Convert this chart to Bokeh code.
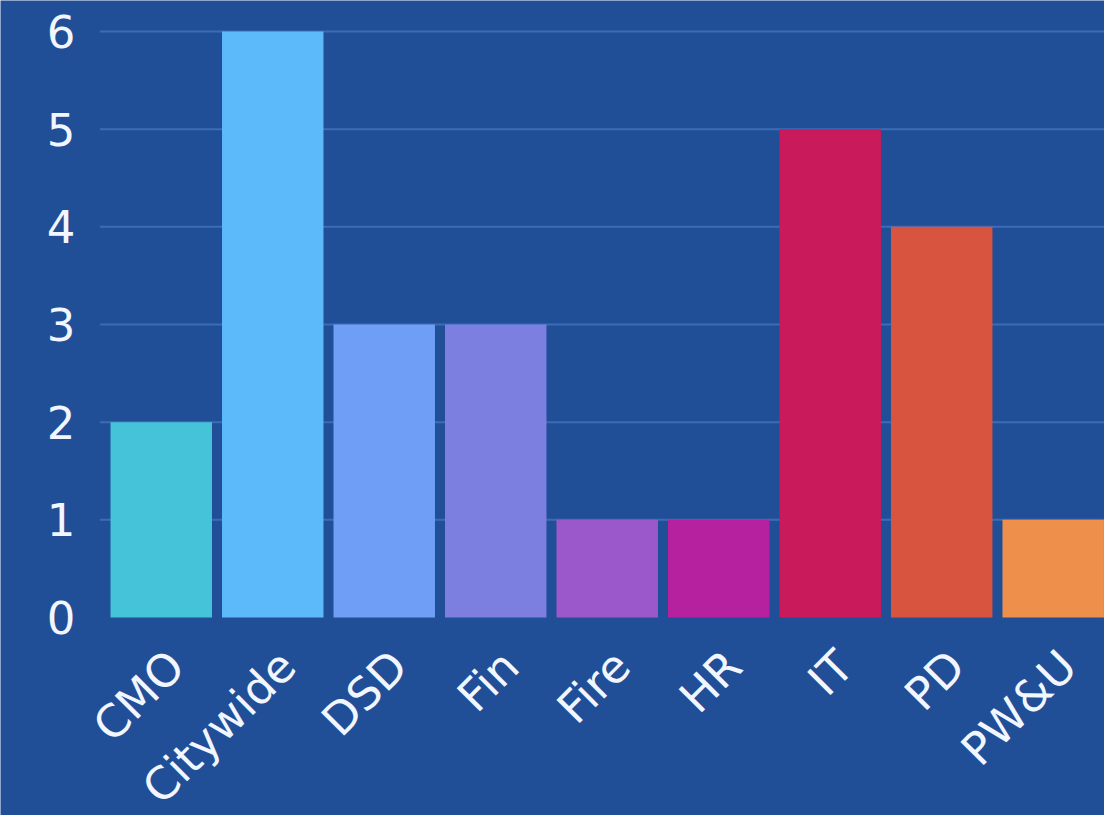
import math
from bokeh.plotting import figure
from bokeh.models import Range1d, ColumnDataSource
from bokeh.core.properties import value
from bokeh.embed import file_html
from bokeh.resources import INLINE

departments = ["CMO", "Citywide", "DSD", "Fin", "Fire", "HR", "IT", "PD", "PW&U"]
counts = [2, 6, 3, 3, 1, 1, 5, 4, 1]
bar_colors = ["#45c4d9", "#5cb9fa", "#6f9ef6", "#7c7fe0", "#9b58ca", "#b5219f",
              "#c91b5b", "#d9543f", "#ee8f4b"]
y_ticks = [0, 1, 2, 3, 4, 5, 6]
y_labels = ["0", "1", "2", "3", "4", "5", "6"]

BG = "#214f97"
TXT = "#f2f6ff"
FONT = "DejaVu Sans"

positions = [i + 0.5 for i in range(len(departments))]
src = ColumnDataSource(dict(x=positions, top=counts, color=bar_colors, name=departments,
                            base=[0] * len(departments)))

# pixel scale: 111.5 px per category, 97.67 px per unit
x_start = -105 / 111.5
y_start = -(815 - 617) / 97.67
y_end = 6 + 31 / 97.67

p = figure(width=1104, height=815, x_range=Range1d(x_start, 8.96), y_range=Range1d(y_start, y_end),
           output_backend="svg", toolbar_location=None,
           min_border_left=0, min_border_right=0, min_border_top=0, min_border_bottom=0)
p.background_fill_color = BG
p.border_fill_color = BG
p.outline_line_color = None
p.axis.visible = False
p.grid.visible = False

# grid lines
grid_src = ColumnDataSource(dict(y=y_ticks[1:], x0=[-0.05] * 6, x1=[8.96] * 6))
p.segment(x0="x0", x1="x1", y0="y", y1="y", line_color="#3c6cb8", line_width=2, source=grid_src)

p.vbar(x="x", top="top", width=0.91, bottom=0, fill_color="color", line_color=None, source=src)

# y tick labels
ylab_src = ColumnDataSource(dict(y=y_ticks, t=y_labels, x=[0] * len(y_ticks)))
p.text(x="x", y="y", text="t", source=ylab_src, x_offset=-30, text_align="right",
       text_baseline="middle", text_font=value(FONT), text_font_size="45px", text_color=TXT)

# x tick labels (rotated)
p.text(x="x", y="base", text="name", source=src, angle=math.pi / 4, x_offset=15, y_offset=41,
       text_align="right", text_baseline="middle", text_font=value(FONT),
       text_font_size="45px", text_color=TXT)

open("out.html", "w").write(file_html(p, INLINE))
